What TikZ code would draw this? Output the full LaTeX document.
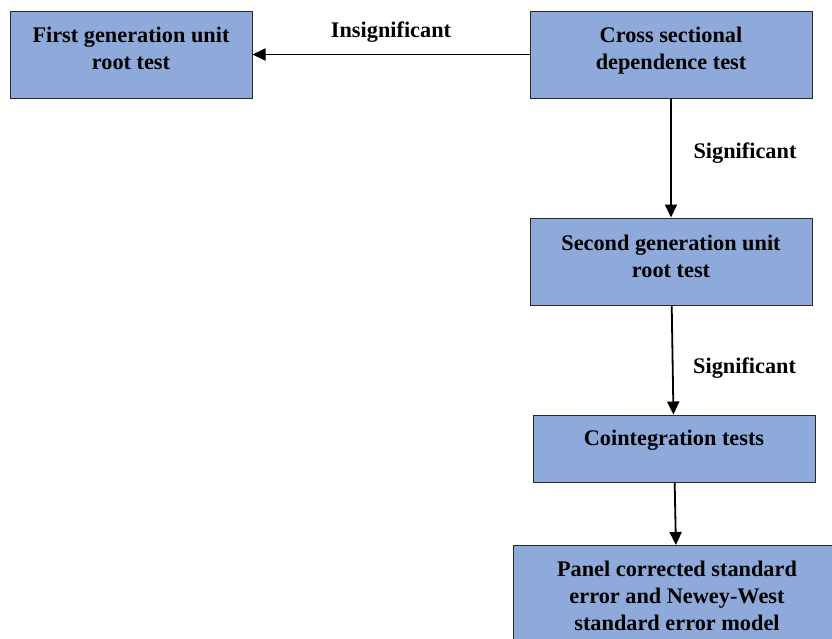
\documentclass[tikz,border=0pt]{standalone}
\usepackage{fontspec}
\setmainfont{Liberation Serif}
\usetikzlibrary{arrows.meta}
\definecolor{boxblue}{RGB}{142,170,219}
\definecolor{boxline}{RGB}{40,40,40}
\tikzset{
  stagebox/.style={draw=boxline, line width=1pt, fill=boxblue, inner sep=0pt},
  stagetext/.style={anchor=north, inner sep=0pt, align=center, yshift=-16pt,
    font=\fontsize{22.3}{27}\selectfont\bfseries},
  flow/.style={line width=1.8pt, -{Triangle[length=13pt,width=12pt]}},
  flowlabel/.style={font=\fontsize{22.3}{27}\selectfont\bfseries, inner sep=0pt}
}
\begin{document}
\begin{tikzpicture}[x=1pt,y=-1pt]
			\useasboundingbox (0,0) rectangle (832,638);
			
			\node [stagebox, minimum width=242pt, minimum height=87pt,
			  label={[stagetext]north:First generation unit\\root test}] (first) at (131,54.5) {};
			\node [stagebox, minimum width=282pt, minimum height=87pt,
			  label={[stagetext]north:Cross sectional\\dependence test}] (cross) at (671,54.5) {};
			\node [stagebox, minimum width=282pt, minimum height=87pt,
			  label={[stagetext, yshift=-1pt]north:Second generation unit\\root test}] (second) at (671,261.5) {};
			\node [stagebox, minimum width=282pt, minimum height=67pt,
			  label={[stagetext, yshift=0.5pt]north:Cointegration tests}] (coint) at (674,448.5) {};
			\node [stagebox, minimum width=328pt, minimum height=110pt, anchor=north,
			  label={[stagetext]north:Panel corrected standard\\error and Newey-West\\standard error model}] (panel) at (677,545) {};
			
			\draw [flow] (cross) -- node [flowlabel, yshift=22pt] {Insignificant} (first);
			\draw [flow] (cross) -- node [flowlabel, xshift=74pt, yshift=5pt] {Significant} (second);
			\draw [flow] (second) -- node [flowlabel, xshift=72pt, yshift=-8pt] {Significant} (coint);
			\draw [flow] (coint) -- (panel);
		\end{tikzpicture}
\end{document}
